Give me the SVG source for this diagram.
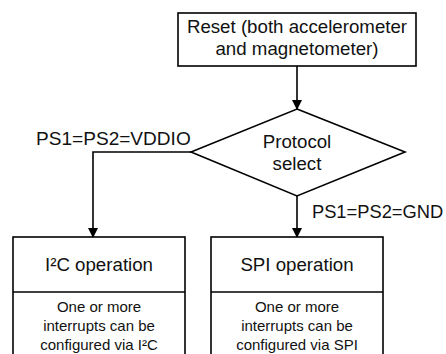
<svg xmlns="http://www.w3.org/2000/svg" width="446" height="354" viewBox="0 0 446 354">
<defs>
<marker id="arr" markerWidth="10" markerHeight="12" refX="9" refY="5" orient="auto" markerUnits="userSpaceOnUse" viewBox="0 0 10 10">
<path d="M0,0 L10,5 L0,10 Z" fill="#000"/>
</marker>
<style>
.box{fill:#fff;stroke:#000;stroke-width:1.6}
.t{font-family:"Liberation Sans",Arial,sans-serif;fill:#111;text-anchor:middle}
.big{font-size:18.7px}
.lbl{font-size:18px}
.sm{font-size:15px}
.c{fill:none;stroke:#000;stroke-width:1.6}
</style>
</defs>
<rect width="446" height="354" fill="#fff"/>
<g id="connectors">
<line class="c" x1="297" y1="66" x2="297" y2="109" marker-end="url(#arr)"/>
<polyline class="c" points="191,152 93,152 93,237" marker-end="url(#arr)"/>
<line class="c" x1="297" y1="196" x2="297" y2="237" marker-end="url(#arr)"/>
<text class="t lbl" x="113.4" y="145" textLength="154.7" lengthAdjust="spacingAndGlyphs">PS1=PS2=VDDIO</text>
<text class="t lbl" x="377.6" y="218.3" textLength="131.3" lengthAdjust="spacingAndGlyphs">PS1=PS2=GND</text>
</g>
<g id="reset">
<rect class="box" x="178" y="13" width="238" height="53"/>
<text class="t big" x="297" y="33">Reset (both accelerometer</text>
<text class="t big" x="297" y="55">and magnetometer)</text>
</g>
<g id="protocol">
<polygon class="box" points="297,109 405,152 297,196 191,152"/>
<text class="t big" x="297" y="147.7">Protocol</text>
<text class="t big" x="297" y="170">select</text>
</g>
<g id="i2c">
<rect class="box" x="13" y="237" width="172" height="130"/>
<line class="c" x1="13" y1="292" x2="185" y2="292"/>
<text class="t big" x="99" y="270.7">I²C operation</text>
<text class="t sm" x="99" y="312">One or more</text>
<text class="t sm" x="99" y="331">interrupts can be</text>
<text class="t sm" x="99" y="349.5">configured via I²C</text>
</g>
<g id="spi">
<rect class="box" x="211" y="237" width="172" height="130"/>
<line class="c" x1="211" y1="292" x2="383" y2="292"/>
<text class="t big" x="297" y="270.7">SPI operation</text>
<text class="t sm" x="297" y="312">One or more</text>
<text class="t sm" x="297" y="331">interrupts can be</text>
<text class="t sm" x="297" y="349.5">configured via SPI</text>
</g>
</svg>
